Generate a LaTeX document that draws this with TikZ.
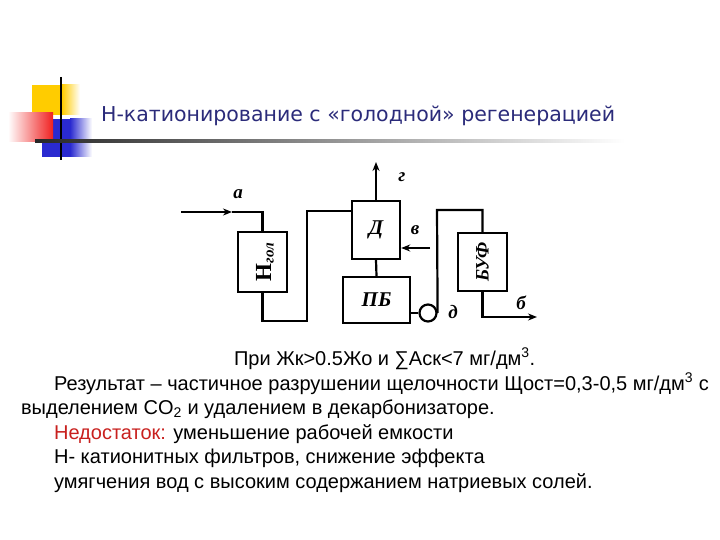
\documentclass[tikz,border=0pt]{standalone}
\usepackage{fontspec}
\setmainfont{Liberation Serif}
\newfontfamily\titlefont{DejaVu Sans}
\newfontfamily\bodyfont{Liberation Sans}
\usetikzlibrary{arrows.meta}
\definecolor{navy}{HTML}{2B2B7A}
\definecolor{redtxt}{HTML}{C8201E}
\definecolor{decoyellow}{HTML}{FFCC00}
\definecolor{decoblue}{HTML}{2A2AD0}
\definecolor{decored}{HTML}{F02020}
\begin{document}
\begin{tikzpicture}[x=1pt,y=-1pt,
  line width=2.2pt,
  blk/.style={draw, line width=2.4pt, inner sep=0pt},
  lbl/.style={font=\fontsize{19}{19}\selectfont\bfseries\itshape},
  boxtxt/.style={font=\fontsize{21}{21}\selectfont\bfseries\itshape},
  arr/.style={-{Stealth[length=9pt,width=7pt]}},
  bodytxt/.style={anchor=base west, inner sep=0pt, font=\bodyfont\fontsize{20}{20}\selectfont}]
\useasboundingbox (0,0) rectangle (720,540);
% decoration
\fill[decoyellow] (32,85) rectangle (62,115);
\shade[left color=decoyellow, right color=white] (62,85) rectangle (80,115);
\fill[decoblue] (42,142) rectangle (70,157);
\fill[decoblue] (53,119) rectangle (70,142);
\shade[left color=decoblue, right color=white] (70,119) rectangle (92,157);
\shade[left color=white, right color=decored] (8,113) rectangle (53,142);
\draw[line width=2.2pt] (61,77) -- (61,160);
\shade[left color=black!85, right color=white, shading angle=90] (35,140) rectangle (625,143);
\node[anchor=west, inner sep=0pt, text=navy, font=\titlefont\fontsize{20.5}{20.5}\selectfont] (title) at (100,116) {Н-катионирование с «голодной» регенерацией};
% blocks
\node[blk, minimum width=49pt, minimum height=60pt] (H) at (262.5,262) {};
\node[rotate=90, inner sep=0pt] (Htxt) at (265,262) {{\fontsize{23}{23}\selectfont\bfseries Н}\raisebox{-0.55ex}{\fontsize{15}{15}\selectfont\bfseries\itshape гол}};
\node[blk, minimum width=48pt, minimum height=58pt, boxtxt] (D) at (376,230) {Д};
\node[blk, minimum width=67pt, minimum height=46pt, boxtxt] (PB) at (376.5,300) {ПБ};
\node[blk, minimum width=49pt, minimum height=58pt] (BUF) at (482.5,262) {};
\node[rotate=90, boxtxt, font=\fontsize{19}{19}\selectfont\bfseries\itshape] (BUFtxt) at (482.5,262) {БУФ};
\node[draw, circle, line width=2.2pt, minimum size=17pt, inner sep=0pt] (C) at (428,313) {};
% connectors
\coordinate (a0) at (181,212);
\coordinate (am) at (232,212);
\coordinate (a1) at (262.5,212);
\draw[arr] (a0) -- (am);
\draw (am) -- (a1) -- (H.north);
\coordinate (h1) at (262.5,321);
\coordinate (h2) at (307,321);
\coordinate (h3) at (307,211);
\draw (H.south) -- (h1) -- (h2) -- (h3) -- (h3 -| D.west);
\coordinate (g1) at (376,162);
\draw[arr] (D.north) -- (g1);
\coordinate (v0) at (430,248);
\draw[arr] (v0) -- (v0 -| D.east);
\draw (D.south) -- (PB.north);
\draw (PB.east |- C.west) -- (C.west);
\coordinate (c1) at (437,210);
\coordinate (c2) at (482.5,210);
\draw (C.east) -- (c1) -- (c2) -- (BUF.north);
\coordinate (b1) at (482.5,317);
\coordinate (b2) at (537,317);
\draw[arr] (BUF.south) -- (b1) -- (b2);
% labels
\node[lbl] (la) at (238,194) {а};
\node[lbl] (lg) at (402,177) {г};
\node[lbl] (lv) at (415,230) {в};
\node[lbl] (ld) at (453,312) {д};
\node[lbl] (lb) at (521,303) {б};
% body text
\node[bodytxt] (t1) at (233,365) {При Жк>0.5Жо и ∑Аск<7 мг/дм\textsuperscript{3}.};
\node[bodytxt] (t2) at (53,390) {Результат – частичное разрушении щелочности Щост=0,3-0,5 мг/дм\textsuperscript{3} с};
\node[bodytxt] (t3) at (20,414) {выделением CO\textsubscript{2} и удалением в декарбонизаторе.};
\node[bodytxt] (t4) at (53,439) {\textcolor{redtxt}{Недостаток:} уменьшение рабочей  емкости};
\node[bodytxt] (t5) at (53,463) {Н- катионитных фильтров, снижение эффекта};
\node[bodytxt] (t6) at (53,488) {умягчения вод с высоким содержанием натриевых солей.};
\end{tikzpicture}
\end{document}
